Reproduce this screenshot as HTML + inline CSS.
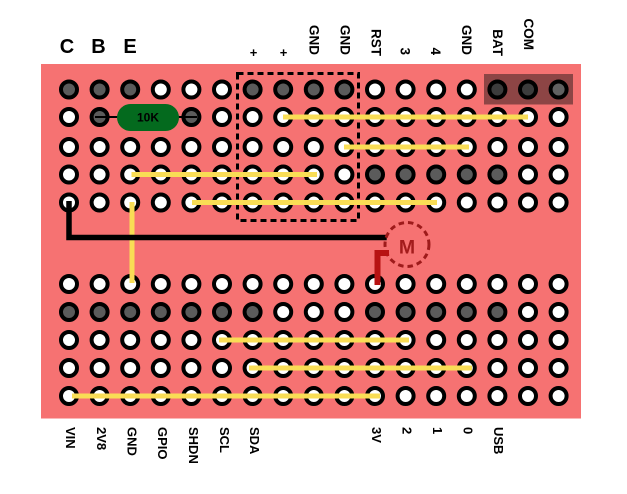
<!DOCTYPE html>
<html><head><meta charset="utf-8"><style>
html,body{margin:0;padding:0;background:#fff;}
svg{display:block;}
text{font-family:"Liberation Sans",Arial,sans-serif;font-weight:bold;}
</style></head><body>
<svg width="627" height="494" viewBox="0 0 627 494" xmlns="http://www.w3.org/2000/svg">
<rect x="0" y="0" width="627" height="494" fill="#ffffff"/>
<rect x="41" y="64" width="540" height="354.5" fill="#f67272"/>
<rect x="484" y="74" width="89" height="30.5" fill="#8d4545"/>
<g stroke="#000" stroke-width="4">
<!-- row 0 y=89.5 -->
<g fill="#5b5b5b">
<circle cx="69" cy="89.5" r="8"/><circle cx="99.6" cy="89.5" r="8"/><circle cx="130.2" cy="89.5" r="8"/>
<circle cx="252.6" cy="89.5" r="8"/><circle cx="283.2" cy="89.5" r="8"/><circle cx="313.8" cy="89.5" r="8"/><circle cx="344.4" cy="89.5" r="8"/>
</g>
<g fill="#ffffff">
<circle cx="160.8" cy="89.5" r="8"/><circle cx="191.4" cy="89.5" r="8"/><circle cx="222" cy="89.5" r="8"/>
<circle cx="375" cy="89.5" r="8"/><circle cx="405.6" cy="89.5" r="8"/><circle cx="436.2" cy="89.5" r="8"/><circle cx="466.8" cy="89.5" r="8"/>
</g>
<circle cx="497.4" cy="89.5" r="8" fill="#3c3c3c"/><circle cx="528" cy="89.5" r="8" fill="#3c3c3c"/><circle cx="558.6" cy="89.5" r="8" fill="#616161"/>
<!-- row 1 y=117 -->
<g fill="#5b5b5b"><circle cx="99.6" cy="117" r="8"/><circle cx="191.4" cy="117" r="8"/></g>
<g fill="#ffffff">
<circle cx="69" cy="117" r="8"/><circle cx="222" cy="117" r="8"/><circle cx="252.6" cy="117" r="8"/><circle cx="283.2" cy="117" r="8"/><circle cx="313.8" cy="117" r="8"/><circle cx="344.4" cy="117" r="8"/><circle cx="375" cy="117" r="8"/><circle cx="405.6" cy="117" r="8"/><circle cx="436.2" cy="117" r="8"/><circle cx="466.8" cy="117" r="8"/><circle cx="497.4" cy="117" r="8"/><circle cx="528" cy="117" r="8"/><circle cx="558.6" cy="117" r="8"/>
</g>
<!-- row 2 y=147 -->
<g fill="#ffffff">
<circle cx="69" cy="147" r="8"/><circle cx="99.6" cy="147" r="8"/><circle cx="130.2" cy="147" r="8"/><circle cx="160.8" cy="147" r="8"/><circle cx="191.4" cy="147" r="8"/><circle cx="222" cy="147" r="8"/><circle cx="252.6" cy="147" r="8"/><circle cx="283.2" cy="147" r="8"/><circle cx="313.8" cy="147" r="8"/><circle cx="344.4" cy="147" r="8"/><circle cx="375" cy="147" r="8"/><circle cx="405.6" cy="147" r="8"/><circle cx="436.2" cy="147" r="8"/><circle cx="466.8" cy="147" r="8"/><circle cx="497.4" cy="147" r="8"/><circle cx="528" cy="147" r="8"/><circle cx="558.6" cy="147" r="8"/>
</g>
<!-- row 3 y=174.5 -->
<g fill="#ffffff">
<circle cx="69" cy="174.5" r="8"/><circle cx="99.6" cy="174.5" r="8"/><circle cx="130.2" cy="174.5" r="8"/><circle cx="160.8" cy="174.5" r="8"/><circle cx="191.4" cy="174.5" r="8"/><circle cx="222" cy="174.5" r="8"/><circle cx="252.6" cy="174.5" r="8"/><circle cx="283.2" cy="174.5" r="8"/><circle cx="313.8" cy="174.5" r="8"/><circle cx="344.4" cy="174.5" r="8"/><circle cx="528" cy="174.5" r="8"/><circle cx="558.6" cy="174.5" r="8"/>
</g>
<g fill="#5b5b5b">
<circle cx="375" cy="174.5" r="8"/><circle cx="405.6" cy="174.5" r="8"/><circle cx="436.2" cy="174.5" r="8"/><circle cx="466.8" cy="174.5" r="8"/><circle cx="497.4" cy="174.5" r="8"/>
</g>
<!-- row 4 y=202.5 -->
<g fill="#ffffff">
<circle cx="69" cy="202.5" r="8"/><circle cx="99.6" cy="202.5" r="8"/><circle cx="130.2" cy="202.5" r="8"/><circle cx="160.8" cy="202.5" r="8"/><circle cx="191.4" cy="202.5" r="8"/><circle cx="222" cy="202.5" r="8"/><circle cx="252.6" cy="202.5" r="8"/><circle cx="283.2" cy="202.5" r="8"/><circle cx="313.8" cy="202.5" r="8"/><circle cx="344.4" cy="202.5" r="8"/><circle cx="375" cy="202.5" r="8"/><circle cx="405.6" cy="202.5" r="8"/><circle cx="436.2" cy="202.5" r="8"/><circle cx="466.8" cy="202.5" r="8"/><circle cx="497.4" cy="202.5" r="8"/><circle cx="528" cy="202.5" r="8"/><circle cx="558.6" cy="202.5" r="8"/>
</g>
<!-- row 5 y=284 -->
<g fill="#ffffff">
<circle cx="69" cy="284" r="8"/><circle cx="99.6" cy="284" r="8"/><circle cx="130.2" cy="284" r="8"/><circle cx="160.8" cy="284" r="8"/><circle cx="191.4" cy="284" r="8"/><circle cx="222" cy="284" r="8"/><circle cx="252.6" cy="284" r="8"/><circle cx="283.2" cy="284" r="8"/><circle cx="313.8" cy="284" r="8"/><circle cx="344.4" cy="284" r="8"/><circle cx="375" cy="284" r="8"/><circle cx="405.6" cy="284" r="8"/><circle cx="436.2" cy="284" r="8"/><circle cx="466.8" cy="284" r="8"/><circle cx="497.4" cy="284" r="8"/><circle cx="528" cy="284" r="8"/><circle cx="558.6" cy="284" r="8"/>
</g>
<!-- row 6 y=312 -->
<g fill="#5b5b5b">
<circle cx="69" cy="312" r="8"/><circle cx="99.6" cy="312" r="8"/><circle cx="130.2" cy="312" r="8"/><circle cx="160.8" cy="312" r="8"/><circle cx="191.4" cy="312" r="8"/><circle cx="222" cy="312" r="8"/><circle cx="252.6" cy="312" r="8"/>
<circle cx="375" cy="312" r="8"/><circle cx="405.6" cy="312" r="8"/><circle cx="436.2" cy="312" r="8"/><circle cx="466.8" cy="312" r="8"/><circle cx="497.4" cy="312" r="8"/>
</g>
<g fill="#ffffff">
<circle cx="283.2" cy="312" r="8"/><circle cx="313.8" cy="312" r="8"/><circle cx="344.4" cy="312" r="8"/><circle cx="528" cy="312" r="8"/><circle cx="558.6" cy="312" r="8"/>
</g>
<!-- rows 7-9 -->
<g fill="#ffffff">
<circle cx="69" cy="340" r="8"/><circle cx="99.6" cy="340" r="8"/><circle cx="130.2" cy="340" r="8"/><circle cx="160.8" cy="340" r="8"/><circle cx="191.4" cy="340" r="8"/><circle cx="222" cy="340" r="8"/><circle cx="252.6" cy="340" r="8"/><circle cx="283.2" cy="340" r="8"/><circle cx="313.8" cy="340" r="8"/><circle cx="344.4" cy="340" r="8"/><circle cx="375" cy="340" r="8"/><circle cx="405.6" cy="340" r="8"/><circle cx="436.2" cy="340" r="8"/><circle cx="466.8" cy="340" r="8"/><circle cx="497.4" cy="340" r="8"/><circle cx="528" cy="340" r="8"/><circle cx="558.6" cy="340" r="8"/>
<circle cx="69" cy="368" r="8"/><circle cx="99.6" cy="368" r="8"/><circle cx="130.2" cy="368" r="8"/><circle cx="160.8" cy="368" r="8"/><circle cx="191.4" cy="368" r="8"/><circle cx="222" cy="368" r="8"/><circle cx="252.6" cy="368" r="8"/><circle cx="283.2" cy="368" r="8"/><circle cx="313.8" cy="368" r="8"/><circle cx="344.4" cy="368" r="8"/><circle cx="375" cy="368" r="8"/><circle cx="405.6" cy="368" r="8"/><circle cx="436.2" cy="368" r="8"/><circle cx="466.8" cy="368" r="8"/><circle cx="497.4" cy="368" r="8"/><circle cx="528" cy="368" r="8"/><circle cx="558.6" cy="368" r="8"/>
<circle cx="69" cy="396" r="8"/><circle cx="99.6" cy="396" r="8"/><circle cx="130.2" cy="396" r="8"/><circle cx="160.8" cy="396" r="8"/><circle cx="191.4" cy="396" r="8"/><circle cx="222" cy="396" r="8"/><circle cx="252.6" cy="396" r="8"/><circle cx="283.2" cy="396" r="8"/><circle cx="313.8" cy="396" r="8"/><circle cx="344.4" cy="396" r="8"/><circle cx="375" cy="396" r="8"/><circle cx="405.6" cy="396" r="8"/><circle cx="436.2" cy="396" r="8"/><circle cx="466.8" cy="396" r="8"/><circle cx="497.4" cy="396" r="8"/><circle cx="528" cy="396" r="8"/><circle cx="558.6" cy="396" r="8"/>
</g>
</g>
<!-- resistor -->
<line x1="95" y1="117" x2="118" y2="117" stroke="#000" stroke-width="2"/>
<line x1="178" y1="117" x2="197" y2="117" stroke="#000" stroke-width="2"/>
<rect x="117" y="104" width="62" height="27" rx="13.5" fill="#046a1e"/>
<text x="148" y="121.7" font-size="12" text-anchor="middle" fill="#000">10K</text>
<!-- dashed box -->
<rect x="237.5" y="73.5" width="121" height="147" fill="none" stroke="#000" stroke-width="3" stroke-dasharray="6 4"/>
<!-- yellow wires -->
<g stroke="#f9dd55" stroke-width="5" fill="none">
<line x1="283" y1="117" x2="528" y2="117"/>
<line x1="344" y1="147" x2="469" y2="147"/>
<line x1="131.5" y1="174.5" x2="317" y2="174.5"/>
<line x1="192" y1="202.5" x2="437" y2="202.5"/>
<line x1="132" y1="202" x2="132" y2="283"/>
<line x1="219" y1="340" x2="409" y2="340"/>
<line x1="249" y1="368" x2="472" y2="368"/>
<line x1="72" y1="396" x2="380" y2="396"/>
</g>
<!-- black wire -->
<path d="M69,201 V237.5 H386.7" fill="none" stroke="#000" stroke-width="5.5"/>
<!-- motor -->
<circle cx="407" cy="244.5" r="22" fill="none" stroke="#9e1b1b" stroke-width="3" stroke-dasharray="5.5 4"/>
<text x="407" y="253.3" font-size="19.5" text-anchor="middle" fill="#a31c1c">M</text>
<path d="M377.5,285 V253 H389" fill="none" stroke="#b71212" stroke-width="6"/>
<!-- labels -->
<g fill="#000">
<text x="67" y="53" font-size="20" text-anchor="middle">C</text>
<text x="98.5" y="53" font-size="20" text-anchor="middle">B</text>
<text x="130" y="53" font-size="20" text-anchor="middle">E</text>
<text x="253.5" y="57" font-size="13" text-anchor="middle">+</text>
<text x="283.5" y="57" font-size="13" text-anchor="middle">+</text>
<g font-size="13.5" text-anchor="end">
<text transform="translate(314.5,55) rotate(90)" dy="0.36em">GND</text>
<text transform="translate(345.5,55) rotate(90)" dy="0.36em">GND</text>
<text transform="translate(376.5,56) rotate(90)" dy="0.36em">RST</text>
<text transform="translate(405.5,55) rotate(90)" dy="0.36em">3</text>
<text transform="translate(436,55) rotate(90)" dy="0.36em">4</text>
<text transform="translate(466.8,55) rotate(90)" dy="0.36em">GND</text>
<text transform="translate(498,56) rotate(90)" dy="0.36em">BAT</text>
<text transform="translate(529,50) rotate(90)" dy="0.36em">COM</text>
</g>
<g font-size="13" text-anchor="start">
<text transform="translate(70.5,427) rotate(90)" dy="0.36em">VIN</text>
<text transform="translate(101.5,427) rotate(90)" dy="0.36em">2V8</text>
<text transform="translate(132,427) rotate(90)" dy="0.36em">GND</text>
<text transform="translate(162.7,427) rotate(90)" dy="0.36em">GPIO</text>
<text transform="translate(193.5,427) rotate(90)" dy="0.36em">SHDN</text>
<text transform="translate(224.5,427) rotate(90)" dy="0.36em">SCL</text>
<text transform="translate(254.7,427) rotate(90)" dy="0.36em">SDA</text>
<text transform="translate(376.7,427) rotate(90)" dy="0.36em">3V</text>
<text transform="translate(407,427) rotate(90)" dy="0.36em">2</text>
<text transform="translate(437.7,427) rotate(90)" dy="0.36em">1</text>
<text transform="translate(468,427) rotate(90)" dy="0.36em">0</text>
<text transform="translate(498.7,427) rotate(90)" dy="0.36em">USB</text>
</g>
</g>
</svg>
</body></html>
